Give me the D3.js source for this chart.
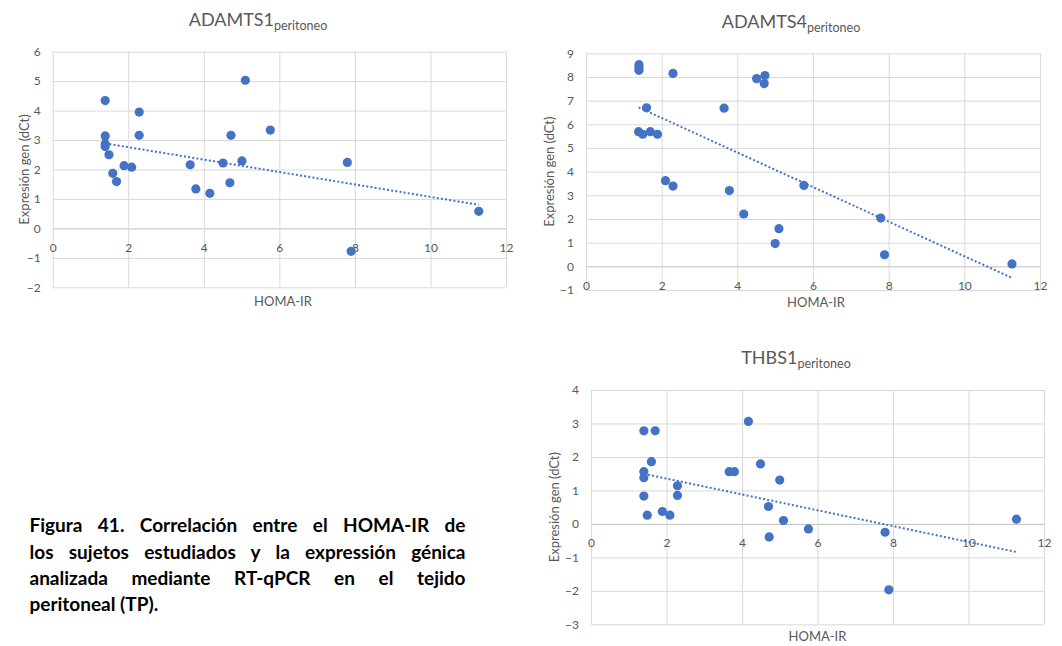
<!DOCTYPE html>
<html>
<head>
<meta charset="utf-8">
<script src="https://cdn.jsdelivr.net/npm/d3@7"></script>
<style>
  body { margin: 0; background: #fff; }
  svg { display: block; }
</style>
</head>
<body>
<svg id="fig" width="1062" height="646"></svg>
<script>
// ---- data: HOMA-IR vs gene expression (dCt) in peritoneal tissue ----
const xTicks = [0, 2, 4, 6, 8, 10, 12];

const adamts1Homa = [1.39, 5.10, 2.29, 1.39, 2.29, 4.72, 5.76, 1.39, 1.39, 1.49, 1.89, 2.09,
                     1.59, 1.69, 3.64, 3.79, 4.16, 4.51, 4.69, 5.01, 7.80, 7.90, 11.28];
const adamts1Expr = [4.34, 5.03, 3.95, 3.14, 3.16, 3.16, 3.34, 2.87, 2.78, 2.50, 2.13, 2.08,
                     1.87, 1.59, 2.16, 1.34, 1.19, 2.22, 1.55, 2.29, 2.24, -0.78, 0.58];
const adamts1Ticks = [-2, -1, 0, 1, 2, 3, 4, 5, 6];

const adamts4Homa = [1.40, 1.40, 1.40, 2.30, 4.51, 4.73, 4.71, 1.60, 3.65, 1.39, 1.50, 1.70,
                     1.89, 2.10, 2.30, 3.79, 5.76, 4.17, 5.10, 5.00, 7.79, 7.89, 11.26];
const adamts4Expr = [8.52, 8.40, 8.28, 8.15, 7.93, 8.06, 7.72, 6.70, 6.68, 5.69, 5.58, 5.69,
                     5.58, 3.62, 3.39, 3.20, 3.42, 2.21, 1.59, 0.96, 2.04, 0.49, 0.10];
const adamts4Ticks = [-1, 0, 1, 2, 3, 4, 5, 6, 7, 8, 9];

const thbs1Homa = [1.40, 1.70, 4.17, 1.60, 1.40, 1.40, 3.66, 3.80, 4.49, 5.00, 2.29, 2.29,
                   1.40, 4.70, 1.89, 1.49, 2.09, 5.10, 5.76, 4.72, 7.79, 7.89, 11.27];
const thbs1Expr = [2.78, 2.78, 3.06, 1.86, 1.56, 1.38, 1.56, 1.56, 1.79, 1.31, 1.14, 0.85,
                   0.83, 0.52, 0.37, 0.26, 0.26, 0.10, -0.15, -0.39, -0.25, -1.97, 0.14];
const thbs1Ticks = [-3, -2, -1, 0, 1, 2, 3, 4];

const captionLines = [
  "Figura 41. Correlación entre el HOMA-IR de",
  "los sujetos estudiados y la expressión génica",
  "analizada mediante RT-qPCR en el tejido",
  "peritoneal (TP)."
];

// ---- layout of the three panels ----
const panels = [
  { gene: "ADAMTS1", sub: "peritoneo", homa: adamts1Homa, expr: adamts1Expr, yTicks: adamts1Ticks,
    l: 52.7, r: 506, t: 51.7, b: 287.3, titleX: 258, titleY: 26, xTitleX: 283, xTitleY: 306, yTitleX: 29 },
  { gene: "ADAMTS4", sub: "peritoneo", homa: adamts4Homa, expr: adamts4Expr, yTicks: adamts4Ticks,
    l: 586, r: 1040, t: 53.3, b: 290, titleX: 791, titleY: 28, xTitleX: 816, xTitleY: 307, yTitleX: 554 },
  { gene: "THBS1", sub: "peritoneo", homa: thbs1Homa, expr: thbs1Expr, yTicks: thbs1Ticks,
    l: 591, r: 1044, t: 390, b: 624.3, titleX: 796, titleY: 364, xTitleX: 817.5, xTitleY: 641, yTitleX: 559 }
];

const FONT = "Lato, 'Open Sans', sans-serif";
const TEXT = "#595959";
const GRID = "#d9d9d9";
const MARK = "#4472C4";

const svg = d3.select("#fig");

// least-squares line, as a spreadsheet linear trendline does
function linearFit(xs, ys) {
  const mx = d3.mean(xs), my = d3.mean(ys);
  let sxy = 0, sxx = 0;
  xs.forEach((x, i) => { sxy += (x - mx) * (ys[i] - my); sxx += (x - mx) * (x - mx); });
  const slope = sxy / sxx;
  return { slope, intercept: my - slope * mx };
}

panels.forEach(p => {
  const g = svg.append("g");
  const x = d3.scaleLinear().domain([0, 12]).range([p.l, p.r]);
  const y = d3.scaleLinear().domain(d3.extent(p.yTicks)).range([p.b, p.t]);

  // horizontal gridlines + value labels
  const yAxis = g.append("g")
    .attr("transform", `translate(${p.l},0)`)
    .call(d3.axisLeft(y).tickValues(p.yTicks).tickSize(-(p.r - p.l)).tickPadding(12)
      .tickFormat(d3.format("d")));
  yAxis.select(".domain").remove();
  yAxis.selectAll(".tick line")
    .attr("stroke", d => d === 0 ? "#bfbfbf" : GRID).attr("stroke-width", 1);
  yAxis.selectAll(".tick text")
    .attr("fill", TEXT).style("font-family", FONT).style("font-size", "12px");

  // vertical gridlines
  const xGrid = g.append("g")
    .attr("transform", `translate(0,${p.t})`)
    .call(d3.axisBottom(x).tickValues(xTicks).tickSize(p.b - p.t).tickFormat(""));
  xGrid.select(".domain").remove();
  xGrid.selectAll(".tick line").attr("stroke", GRID).attr("stroke-width", 1);

  // category labels sit just under the zero line
  const xAxis = g.append("g")
    .attr("transform", `translate(0,${y(0)})`)
    .call(d3.axisBottom(x).tickValues(xTicks).tickSize(0).tickPadding(15).tickFormat(d3.format("d")));
  xAxis.select(".domain").remove();
  xAxis.selectAll(".tick text")
    .attr("fill", TEXT).style("font-family", FONT).style("font-size", "12px");

  // points
  g.append("g").selectAll("circle")
    .data(p.homa.map((h, i) => [h, p.expr[i]]))
    .join("circle")
    .attr("cx", d => x(d[0])).attr("cy", d => y(d[1]))
    .attr("r", 4.6).attr("fill", MARK);

  // dotted linear trendline
  const fit = linearFit(p.homa, p.expr);
  const [x0, x1] = d3.extent(p.homa);
  g.append("line")
    .attr("x1", x(x0)).attr("y1", y(fit.intercept + fit.slope * x0))
    .attr("x2", x(x1)).attr("y2", y(fit.intercept + fit.slope * x1))
    .attr("stroke", MARK).attr("stroke-width", 2).attr("stroke-dasharray", "2,2.2");

  // chart title with subscript
  const title = g.append("text")
    .attr("x", p.titleX).attr("y", p.titleY).attr("text-anchor", "middle")
    .attr("fill", TEXT).style("font-family", FONT).style("font-size", "18px");
  title.append("tspan").text(p.gene);
  title.append("tspan").attr("dy", 3.5).style("font-size", "12.5px").text(p.sub);

  // axis titles
  g.append("text")
    .attr("x", p.xTitleX).attr("y", p.xTitleY).attr("text-anchor", "middle")
    .attr("fill", TEXT).style("font-family", FONT).style("font-size", "13px")
    .text("HOMA-IR");
  g.append("text")
    .attr("transform", `translate(${p.yTitleX},${(p.t + p.b) / 2}) rotate(-90)`)
    .attr("text-anchor", "middle")
    .attr("fill", TEXT).style("font-family", FONT).style("font-size", "13px")
    .text("Expresión gen (dCt)");
});

// ---- figure caption, justified block ----
const capX = 29.5, capW = 436, capY0 = 532.3, capLead = 26.3;
const cap = svg.append("g")
  .style("font-family", FONT).style("font-weight", "bold").style("font-size", "19px")
  .attr("fill", "#000");
captionLines.forEach((line, i) => {
  const t = cap.append("text").attr("x", capX).attr("y", capY0 + i * capLead).text(line);
  if (i < captionLines.length - 1) {
    const natural = t.node().getComputedTextLength();
    const gaps = line.split(" ").length - 1;
    if (natural < capW) {
      t.attr("word-spacing", (capW - natural) / gaps);
    } else {
      t.attr("textLength", capW).attr("lengthAdjust", "spacingAndGlyphs");
    }
  }
});
</script>
</body>
</html>
